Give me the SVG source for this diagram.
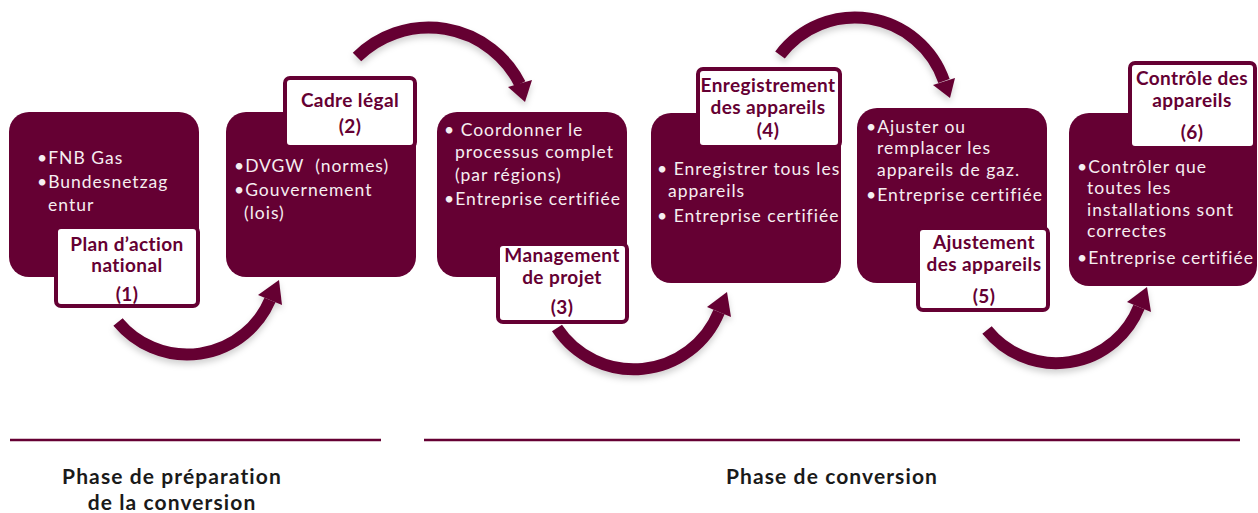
<svg xmlns="http://www.w3.org/2000/svg" width="1258" height="513" viewBox="0 0 1258 513">
<style>
.box{fill:#650033}
.lab{fill:#ffffff;stroke:#650033;stroke-width:4}
.bt{font-family:Lato,"Open Sans",sans-serif;font-size:17.5px;fill:#f6eef1;letter-spacing:1px}
.lt{font-family:Lato,"Open Sans",sans-serif;font-size:19px;font-weight:bold;fill:#650033;text-anchor:middle;letter-spacing:0.4px}
.arc{fill:none;stroke:#650033;stroke-width:12}
.head{fill:#650033}
.ph{font-family:Lato,"Open Sans",sans-serif;font-size:21px;font-weight:bold;fill:#1a1a1a;text-anchor:middle;letter-spacing:1.1px}
.rule{stroke:#650033;stroke-width:2.5}
</style>
<defs>
<filter id="sh" x="-20%" y="-20%" width="140%" height="140%">
<feDropShadow dx="0" dy="4" stdDeviation="3" flood-color="#000" flood-opacity="0.18"/>
</filter>
</defs>
<rect width="1258" height="513" fill="#ffffff"/>
<g id="connectors" filter="url(#sh)">
<path class="arc" d="M118,322 A90,90 0 0 0 270,300"/>
<polygon class="head" points="279,280 282,305 258,295"/>
<path class="arc" d="M357,57 A102,102 0 0 1 520,84"/>
<polygon class="head" points="525,102 508,87 532,80"/>
<path class="arc" d="M557,328 A92,92 0 0 0 719,312"/>
<polygon class="head" points="727,292 731,317 707,307"/>
<path class="arc" d="M780,55 A94,94 0 0 1 944,81"/>
<polygon class="head" points="950,98 933,85 955,78"/>
<path class="arc" d="M987,330 A89,89 0 0 0 1139,307"/>
<polygon class="head" points="1147,287 1151,312 1127,302"/>
</g>
<g id="node1">
<rect class="box" x="9" y="112" width="190" height="165" rx="20"/>
<text class="bt" x="37" y="164">•FNB Gas</text>
<text class="bt" x="37" y="188">•Bundesnetzag</text>
<text class="bt" x="48" y="211">entur</text>
<rect class="lab" x="56" y="227" width="142" height="79" rx="5"/>
<text class="lt" x="127" y="251">Plan d’action</text>
<text class="lt" x="127" y="272">national</text>
<text class="lt" x="127" y="301">(1)</text>
</g>
<g id="node2">
<rect class="box" x="226" y="112" width="190" height="165" rx="20"/>
<text class="bt" x="234" y="172">•DVGW&#160; (normes)</text>
<text class="bt" x="234" y="196">•Gouvernement</text>
<text class="bt" x="244" y="219">(lois)</text>
<rect class="lab" x="285" y="78" width="130" height="69" rx="5"/>
<text class="lt" x="350" y="107">Cadre légal</text>
<text class="lt" x="350" y="133">(2)</text>
</g>
<g id="node3">
<rect class="box" x="437" y="112" width="190" height="165" rx="20"/>
<text class="bt" x="444" y="136">• Coordonner le</text>
<text class="bt" x="455" y="158">processus complet</text>
<text class="bt" x="455" y="181">(par régions)</text>
<text class="bt" x="444" y="205">•Entreprise certifiée</text>
<rect class="lab" x="498" y="244" width="129" height="78" rx="5"/>
<text class="lt" x="562" y="262">Management</text>
<text class="lt" x="562" y="284">de projet</text>
<text class="lt" x="562" y="314">(3)</text>
</g>
<g id="node4">
<rect class="box" x="651" y="113" width="190" height="170" rx="20"/>
<text class="bt" x="657" y="175">• Enregistrer tous les</text>
<text class="bt" x="668" y="197">appareils</text>
<text class="bt" x="657" y="222">• Entreprise certifiée</text>
<rect class="lab" x="698" y="69" width="142" height="78" rx="5"/>
<text class="lt" x="768" y="92">Enregistrement</text>
<text class="lt" x="768" y="114">des appareils</text>
<text class="lt" x="768" y="137">(4)</text>
</g>
<g id="node5">
<rect class="box" x="857" y="108" width="190" height="175" rx="20"/>
<text class="bt" x="866" y="133">•Ajuster ou</text>
<text class="bt" x="877" y="154">remplacer les</text>
<text class="bt" x="877" y="176">appareils de gaz.</text>
<text class="bt" x="866" y="201">•Entreprise certifiée</text>
<rect class="lab" x="918" y="228" width="130" height="82" rx="5"/>
<text class="lt" x="984" y="249">Ajustement</text>
<text class="lt" x="984" y="271">des appareils</text>
<text class="lt" x="984" y="303">(5)</text>
</g>
<g id="node6">
<rect class="box" x="1069" y="113" width="188" height="173" rx="20"/>
<text class="bt" x="1077" y="173">•Contrôler que</text>
<text class="bt" x="1087" y="194">toutes les</text>
<text class="bt" x="1087" y="216">installations sont</text>
<text class="bt" x="1087" y="237">correctes</text>
<text class="bt" x="1077" y="264">•Entreprise certifiée</text>
<rect class="lab" x="1130" y="63" width="125" height="85" rx="5"/>
<text class="lt" x="1192" y="85">Contrôle des</text>
<text class="lt" x="1192" y="107">appareils</text>
<text class="lt" x="1192" y="139">(6)</text>
</g>
<g id="phases">
<line class="rule" x1="10" y1="440" x2="381" y2="440"/>
<line class="rule" x1="424" y1="440" x2="1240" y2="440"/>
<text class="ph" x="172" y="484">Phase de préparation</text>
<text class="ph" x="172" y="510">de la conversion</text>
<text class="ph" x="832" y="484">Phase de conversion</text>
</g>
</svg>
